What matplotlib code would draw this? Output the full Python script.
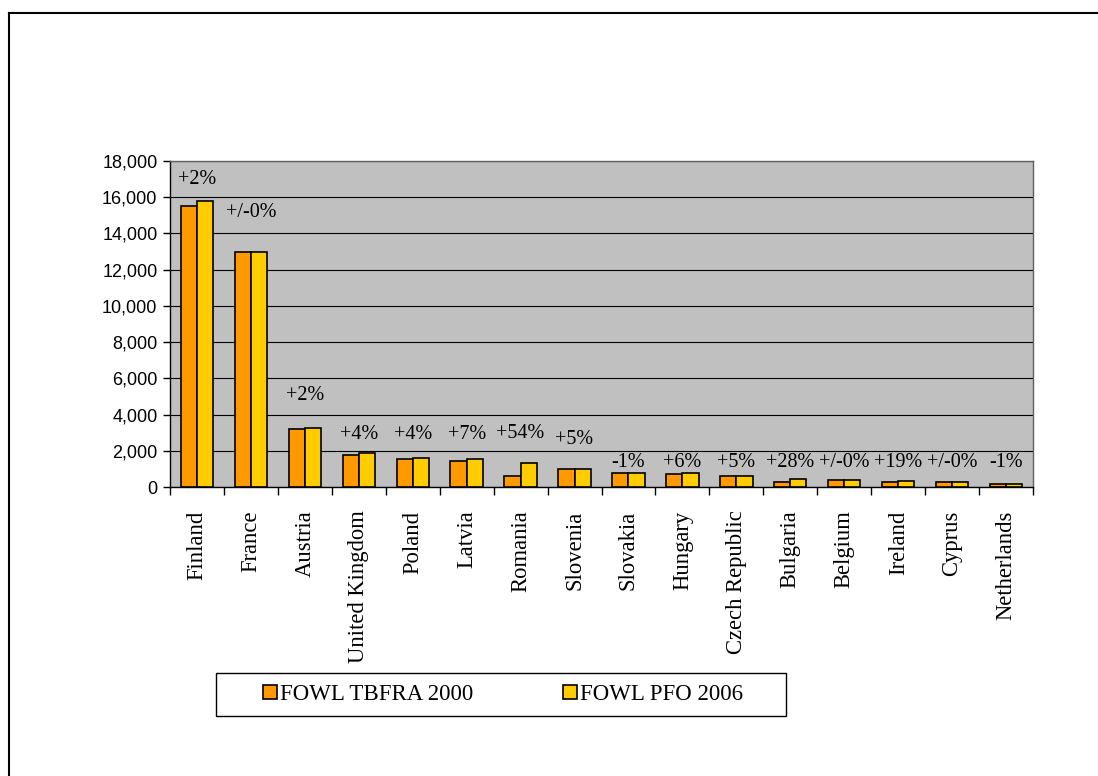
import numpy as np
import matplotlib.pyplot as plt
from matplotlib.lines import Line2D
from matplotlib.patches import Rectangle, Patch

# data
countries = ['Finland', 'France', 'Austria', 'United Kingdom', 'Poland', 'Latvia',
             'Romania', 'Slovenia', 'Slovakia', 'Hungary', 'Czech Republic',
             'Bulgaria', 'Belgium', 'Ireland', 'Cyprus', 'Netherlands']
tbfra_2000 = [15500, 13000, 3200, 1790, 1530, 1440, 620, 970, 790, 700, 610,
              260, 360, 260, 250, 170]
pfo_2006 = [15800, 13000, 3270, 1870, 1600, 1530, 1340, 980, 780, 790, 620,
            440, 360, 350, 250, 165]
change_labels = ['+2%', '+/-0%', '+2%', '+4%', '+4%', '+7%', '+54%', '+5%', '-1%',
                 '+6%', '+5%', '+28%', '+/-0%', '+19%', '+/-0%', '-1%']
label_heights = [16990, 15150, 5040, 2925, 2925, 2925, 2965, 2600, 1340,
                 1340, 1340, 1340, 1340, 1340, 1340, 1340]

orange = '#FF9900'
yellow = '#FFCC00'

fig = plt.figure(figsize=(10.98, 7.76), dpi=100)
ax = fig.add_axes([170/1098, 1-487/776, 863/1098, 326/776])

x = np.arange(len(countries))
w = 0.3
ax.bar(x - w/2, tbfra_2000, w, color=orange, edgecolor='black', linewidth=1.2, zorder=3)
ax.bar(x + w/2, pfo_2006, w, color=yellow, edgecolor='black', linewidth=1.2, zorder=3)

for xi, lab, ly in zip(x, change_labels, label_heights):
    ax.text(xi, ly, lab, ha='center', va='center', fontsize=14.5,
            family='Liberation Serif', zorder=4)

ax.set_facecolor('#C0C0C0')
ax.set_xlim(-0.5, len(countries) - 0.5)
ax.set_ylim(0, 18000)
ax.set_yticks(np.arange(0, 18001, 2000))
ax.set_yticklabels([f'{v:,}' for v in range(0, 18001, 2000)],
                   family='Liberation Sans', fontsize=13)
ax.yaxis.grid(True, color='black', linewidth=0.8, zorder=1)
ax.tick_params(axis='y', direction='out', length=5, width=1, pad=4)

ax.set_xticks(x)
ax.set_xticklabels(countries, rotation=90, family='Liberation Serif', fontsize=16.3)
ax.set_xticks(np.arange(-0.5, len(countries)), minor=True)
ax.tick_params(axis='x', which='major', length=0, pad=17)
ax.tick_params(axis='x', which='minor', direction='out', length=6, width=1)

for s in ['left', 'bottom']:
    ax.spines[s].set_color('black')
    ax.spines[s].set_linewidth(1)
for s in ['top', 'right']:
    ax.spines[s].set_color('#606060')
    ax.spines[s].set_linewidth(1)

# legend with its own box
fig.patches.append(Rectangle((216/1098, 1-716/776), 570/1098, 43/776,
                             transform=fig.transFigure, facecolor='white',
                             edgecolor='black', linewidth=1))
handles = [Patch(facecolor=orange, edgecolor='black', linewidth=1.2),
           Patch(facecolor=yellow, edgecolor='black', linewidth=1.2)]
fig.legend(handles, ['FOWL TBFRA 2000', 'FOWL PFO 2006'], loc='center',
           bbox_to_anchor=(503/1098, 1-694.5/776), ncol=2, frameon=False,
           prop={'family': 'Liberation Serif', 'size': 16.5},
           handlelength=0.6, handleheight=0.6, handletextpad=0.15,
           columnspacing=3.9)

# outer frame (only top and left visible)
fig.lines.append(Line2D([9/1098, 1], [1-13/776, 1-13/776], transform=fig.transFigure,
                        color='black', linewidth=1.5))
fig.lines.append(Line2D([9/1098, 9/1098], [0, 1-13/776], transform=fig.transFigure,
                        color='black', linewidth=1.5))

fig.savefig('out.png', dpi=100)
